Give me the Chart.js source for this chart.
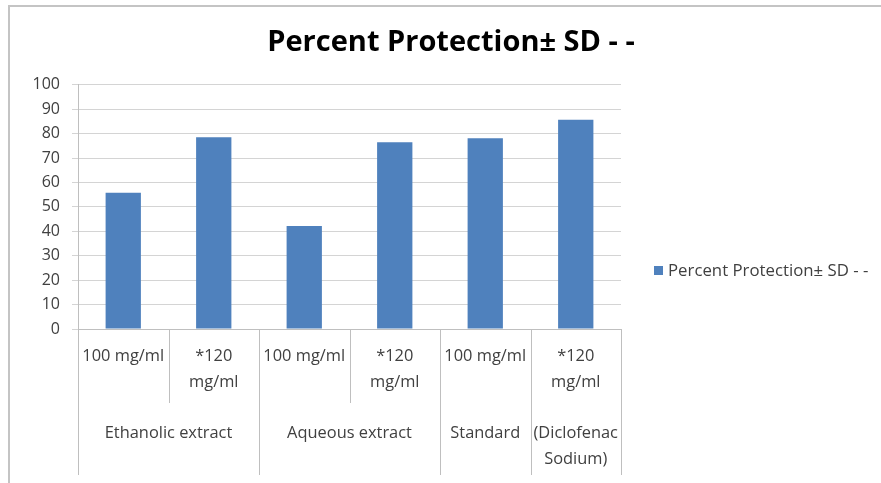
<!DOCTYPE html>
<html>
<head>
<meta charset="utf-8">
<script src="https://cdn.jsdelivr.net/npm/chart.js@4.4.1/dist/chart.umd.min.js"></script>
<style>
  html, body { margin: 0; padding: 0; background: #fff; }
  #wrap { width: 881px; height: 483px; position: relative; }
</style>
</head>
<body>
<div id="wrap"><canvas id="c"></canvas></div>
<script>
// Series and categories
const seriesName = 'Percent Protection\u00b1 SD - -';
const doseLabels = [['100 mg/ml'], ['*120', 'mg/ml'], ['100 mg/ml'], ['*120', 'mg/ml'], ['100 mg/ml'], ['*120', 'mg/ml']];
const groupLabels = [['Ethanolic extract'], ['Aqueous extract'], ['Standard'], ['(Diclofenac', 'Sodium)']];
const groupSpans = [2, 2, 1, 1];
const protection = [55.8, 78.5, 42.2, 76.5, 78.1, 85.7];
const yMin = 0, yMax = 100, yStep = 10;

const FONT = '"Open Sans", "Liberation Sans", sans-serif';
const TEXT = '#404040';
const LINE = '#bfbfbf';

// Two-level category table under the plot, legend and chart frame
const decorations = {
  id: 'decorations',
  afterDraw(chart) {
    const { ctx, chartArea: a, scales: { x } } = chart;
    const n = chart.data.labels.length;
    const w = (a.right - a.left) / n;
    const edge = i => a.left + i * w;
    const yTop = a.bottom, yMid = a.bottom + 74, yEnd = a.bottom + 146;

    ctx.save();
    ctx.strokeStyle = LINE;
    ctx.lineWidth = 1;
    const full = new Set([0]);
    let acc = 0;
    groupSpans.forEach(s => { acc += s; full.add(acc); });
    for (let i = 0; i <= n; i++) {
      const px = Math.round(edge(i)) + 0.5;
      ctx.beginPath();
      ctx.moveTo(px, yTop);
      ctx.lineTo(px, full.has(i) ? yEnd : yMid);
      ctx.stroke();
    }

    ctx.fillStyle = TEXT;
    ctx.font = '16.4px ' + FONT;
    ctx.textAlign = 'center';
    ctx.textBaseline = 'middle';
    chart.data.labels.forEach((lines, i) => {
      const cx = x.getPixelForValue(i);
      lines.forEach((t, k) => ctx.fillText(t, cx, yTop + 27 + k * 26));
    });
    let start = 0;
    groupLabels.forEach((lines, g) => {
      const cx = (edge(start) + edge(start + groupSpans[g])) / 2;
      lines.forEach((t, k) => ctx.fillText(t, cx, yTop + 104 + k * 26));
      start += groupSpans[g];
    });

    // legend
    const ds = chart.data.datasets[0];
    ctx.fillStyle = ds.backgroundColor;
    ctx.fillRect(654, 266, 9, 9);
    ctx.fillStyle = TEXT;
    ctx.font = '16.8px ' + FONT;
    ctx.textAlign = 'left';
    ctx.fillText(ds.label, 668, 271);

    // frame
    ctx.strokeStyle = '#c4c4c4';
    ctx.lineWidth = 2;
    ctx.beginPath();
    ctx.moveTo(9, 483);
    ctx.lineTo(9, 6);
    ctx.lineTo(881, 6);
    ctx.stroke();
    ctx.restore();
  }
};

new Chart(document.getElementById('c'), {
  type: 'bar',
  data: {
    labels: doseLabels,
    datasets: [{
      label: seriesName,
      data: protection,
      backgroundColor: '#4f81bd',
      borderWidth: 0,
      barPercentage: 0.39,
      categoryPercentage: 1
    }]
  },
  options: {
    responsive: true,
    maintainAspectRatio: false,
    animation: false,
    events: [],
    layout: { padding: { left: 21, right: 0, top: 5, bottom: 0 } },
    plugins: {
      legend: { display: false },
      tooltip: { enabled: false },
      title: {
        display: true,
        text: seriesName,
        color: '#000',
        font: { family: FONT, size: 29, weight: 'bold' },
        padding: { top: 20, bottom: 25 }
      }
    },
    scales: {
      x: {
        ticks: { display: false },
        grid: { display: false },
        border: { display: true, color: LINE },
        afterFit(s) { s.height = 154; }
      },
      y: {
        min: yMin,
        max: yMax,
        ticks: { stepSize: yStep, color: TEXT, padding: 12, font: { family: FONT, size: 16 } },
        grid: { color: '#d4d4d4', tickLength: 6 },
        border: { display: true, color: LINE },
        afterFit(s) { s.width = 57; }
      },
      // empty right-hand strip that holds the legend
      side: {
        position: 'right',
        display: true,
        ticks: { display: false },
        grid: { display: false },
        border: { display: false },
        afterFit(s) { s.width = 260; }
      }
    }
  },
  plugins: [decorations]
});
</script>
</body>
</html>
